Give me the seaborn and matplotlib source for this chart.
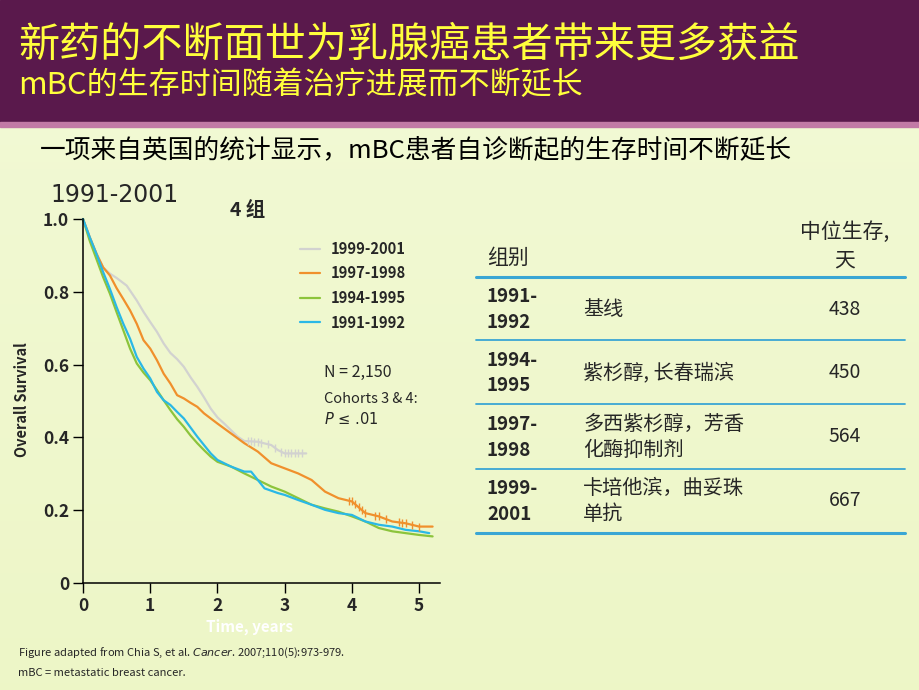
import numpy as np
import pandas as pd
import matplotlib
matplotlib.use("Agg")
import matplotlib.pyplot as plt
import seaborn as sns

# survival curves (time in years, overall survival)
groups = ["1999-2001", "1997-1998", "1994-1995", "1991-1992"]
colors = ["#d2d2d0", "#f0902c", "#8cc43c", "#2ab8e6"]

t_9901 = [0, 0.1, 0.2, 0.3, 0.4, 0.5, 0.65, 0.8, 0.9, 1.0, 1.1, 1.2, 1.3, 1.4, 1.5,
          1.6, 1.7, 1.8, 1.9, 2.0, 2.1, 2.2, 2.3, 2.4, 2.6, 2.8, 2.9, 3.0, 3.32]
s_9901 = [1.0, 0.95, 0.905, 0.867, 0.85, 0.838, 0.817, 0.776, 0.745, 0.717, 0.69, 0.658,
          0.632, 0.615, 0.594, 0.565, 0.539, 0.51, 0.479, 0.455, 0.438, 0.42, 0.402,
          0.39, 0.388, 0.379, 0.365, 0.356, 0.356]

t_9798 = [0, 0.1, 0.2, 0.3, 0.4, 0.5, 0.6, 0.7, 0.8, 0.9, 1.0, 1.1, 1.2, 1.3, 1.4, 1.5,
          1.6, 1.7, 1.8, 1.9, 2.0, 2.2, 2.4, 2.6, 2.8, 3.0, 3.2, 3.4, 3.6, 3.8, 4.0,
          4.2, 4.4, 4.6, 4.8, 5.0, 5.2]
s_9798 = [1.0, 0.95, 0.905, 0.867, 0.845, 0.81, 0.78, 0.749, 0.712, 0.667, 0.644, 0.612,
          0.575, 0.548, 0.516, 0.507, 0.495, 0.484, 0.466, 0.452, 0.438, 0.411, 0.384,
          0.361, 0.329, 0.315, 0.301, 0.283, 0.251, 0.233, 0.224, 0.192, 0.183, 0.169,
          0.164, 0.155, 0.155]

t_9495 = [0, 0.1, 0.2, 0.3, 0.4, 0.5, 0.6, 0.7, 0.8, 0.9, 1.0, 1.1, 1.2, 1.3, 1.4, 1.5,
          1.6, 1.7, 1.8, 1.9, 2.0, 2.2, 2.4, 2.6, 2.8, 3.0, 3.2, 3.4, 3.6, 3.8, 4.0,
          4.2, 4.4, 4.6, 4.8, 5.0, 5.2]
s_9495 = [1.0, 0.94, 0.89, 0.84, 0.795, 0.744, 0.694, 0.644, 0.603, 0.578, 0.557, 0.53,
          0.502, 0.475, 0.45, 0.429, 0.405, 0.384, 0.365, 0.347, 0.333, 0.32, 0.301,
          0.283, 0.265, 0.251, 0.233, 0.215, 0.205, 0.196, 0.183, 0.169, 0.151, 0.142,
          0.137, 0.132, 0.128]

t_9192 = [0, 0.1, 0.2, 0.3, 0.4, 0.5, 0.6, 0.7, 0.8, 0.9, 1.0, 1.1, 1.2, 1.3, 1.4, 1.5,
          1.6, 1.7, 1.8, 1.9, 2.0, 2.2, 2.4, 2.5, 2.6, 2.7, 2.9, 3.0, 3.2, 3.4, 3.6,
          3.8, 4.0, 4.2, 4.4, 4.6, 4.8, 5.0, 5.15]
s_9192 = [1.0, 0.95, 0.904, 0.854, 0.808, 0.758, 0.712, 0.671, 0.621, 0.589, 0.562, 0.525,
          0.502, 0.489, 0.47, 0.452, 0.427, 0.402, 0.379, 0.356, 0.338, 0.32, 0.306,
          0.306, 0.283, 0.26, 0.247, 0.242, 0.228, 0.215, 0.201, 0.192, 0.187, 0.169,
          0.16, 0.155, 0.146, 0.142, 0.137]

# censoring ticks
cens_9901 = [2.45, 2.5, 2.55, 2.6, 2.65, 2.75, 2.85, 2.95, 3.0, 3.05, 3.1, 3.15, 3.2, 3.25]
cens_9798 = [3.95, 4.0, 4.05, 4.1, 4.15, 4.2, 4.35, 4.4, 4.5, 4.7, 4.75, 4.8, 4.9, 5.0]

# table on the right
tbl_years = [("1991-", "1992"), ("1994-", "1995"), ("1997-", "1998"), ("1999-", "2001")]
tbl_drugs = [["基线"], ["紫杉醇, 长春瑞滨"], ["多西紫杉醇，芳香", "化酶抑制剂"],
             ["卡培他滨，曲妥珠", "单抗"]]
tbl_median = ["438", "450", "564", "667"]

sns.set_style("white")
plt.rcParams["font.family"] = ["Noto Sans CJK SC", "DejaVu Sans"]

W, H = 920, 690
fig = plt.figure(figsize=(9.2, 6.9), dpi=100)


def fx(x):
    return x / W


def fy(y):
    return 1 - y / H


# background: light green gradient + purple header
bg = fig.add_axes([0, 0, 1, 1], zorder=-10)
grad = np.linspace(0, 1, 200)[:, None]
top = np.array([0.95, 0.98, 0.84])
bot = np.array([0.93, 0.965, 0.78])
img = top[None, None, :] * (1 - grad[..., None]) + bot[None, None, :] * grad[..., None]
bg.imshow(img, extent=[0, 1, 0, 1], aspect="auto", origin="upper")
bg.add_patch(plt.Rectangle((0, fy(122)), 1, 1 - fy(122), color="#5a194c"))
bg.add_patch(plt.Rectangle((0, fy(127)), 1, fy(122) - fy(127), color="#c27aa6"))
bg.set_xlim(0, 1)
bg.set_ylim(0, 1)
bg.axis("off")

fig.text(fx(18), fy(45), "新药的不断面世为乳腺癌患者带来更多获益", color="#ffff3c",
         fontsize=29.6, va="center", ha="left")
fig.text(fx(18), fy(85), "mBC的生存时间随着治疗进展而不断延长", color="#ffff3c",
         fontsize=22.3, va="center", ha="left")
fig.text(fx(40), fy(150), "一项来自英国的统计显示，mBC患者自诊断起的生存时间不断延长",
         color="black", fontsize=18.5, va="center", ha="left")

# survival chart
rows = []
for g, t, s in [(groups[0], t_9901, s_9901), (groups[1], t_9798, s_9798),
                (groups[2], t_9495, s_9495), (groups[3], t_9192, s_9192)]:
    for a, b in zip(t, s):
        rows.append({"Time": a, "Survival": b, "Group": g})
df = pd.DataFrame(rows)

ax = fig.add_axes([fx(83), fy(583), fx(440) - fx(83), fy(219) - fy(583)])
ax.patch.set_alpha(0)
sns.lineplot(data=df, x="Time", y="Survival", hue="Group", hue_order=groups,
             palette=colors, estimator=None, sort=True, linewidth=1.6, ax=ax,
             clip_on=False)

for cens, t, s, c in [(cens_9901, t_9901, s_9901, colors[0]),
                      (cens_9798, t_9798, s_9798, colors[1])]:
    ax.plot(cens, np.interp(cens, t, s), linestyle="none", marker="|",
            markersize=6, markeredgewidth=1.0, color=c, clip_on=False)

ax.set_xlim(0, 5.31)
ax.set_ylim(0, 1.0)
ax.set_xticks([0, 1, 2, 3, 4, 5])
ax.set_yticks([0, 0.2, 0.4, 0.6, 0.8, 1.0])
ax.set_yticklabels(["0", "0.2", "0.4", "0.6", "0.8", "1.0"])
ax.tick_params(axis="both", direction="out", length=7, width=1.0, color="black",
               labelsize=12.5, pad=3, left=True, bottom=True)
for lbl in ax.get_xticklabels() + ax.get_yticklabels():
    lbl.set_fontweight("bold")
for side in ["top", "right"]:
    ax.spines[side].set_visible(False)
for side in ["left", "bottom"]:
    ax.spines[side].set_color("black")
    ax.spines[side].set_linewidth(1.1)
ax.set_xlabel("")
ax.set_ylabel("")

sns.move_legend(ax, "upper left", bbox_to_anchor=(fx(294), fy(235)),
                bbox_transform=fig.transFigure, frameon=False, title=None,
                prop={"weight": "bold", "size": 10.6}, handlelength=1.4,
                handletextpad=0.7, labelspacing=0.58, borderaxespad=0)

fig.text(fx(22), fy(400), "Overall Survival", rotation=90, fontsize=10.5,
         fontweight="bold", ha="center", va="center")
fig.text(fx(250), fy(627), "Time, years", color="white", fontsize=11,
         fontweight="bold", ha="center", va="center")
fig.text(fx(50), fy(195), "1991-2001", fontsize=17, ha="left", va="center",
         family=["DejaVu Sans"])
fig.text(fx(230), fy(210), "4 组", fontsize=14, fontweight="bold", ha="left", va="center")

fig.text(fx(324), fy(372), "N = 2,150", fontsize=11.5, ha="left", va="center")
fig.text(fx(324), fy(399), "Cohorts 3 & 4:", fontsize=10.5, ha="left", va="center")
fig.text(fx(324), fy(419), "$P$ \u2264 .01", fontsize=10.5, ha="left", va="center",
         family=["DejaVu Sans"])

# table
line_c = "#3aa6d4"
for y, lw in [(277, 2.2), (340, 1.3), (404, 1.3), (469, 1.3), (533, 2.2)]:
    fig.add_artist(plt.Line2D([fx(476), fx(905)], [fy(y), fy(y)], color=line_c, lw=lw))
fig.text(fx(487), fy(258), "组别", fontsize=15, ha="left", va="center")
fig.text(fx(845), fy(232), "中位生存,", fontsize=15, ha="center", va="center")
fig.text(fx(845), fy(260), "天", fontsize=15, ha="center", va="center")

row_mid = [309, 373, 437, 501]
for ymid, yrs, drugs, med in zip(row_mid, tbl_years, tbl_drugs, tbl_median):
    fig.text(fx(487), fy(ymid - 13), yrs[0], fontsize=13.5, fontweight="bold",
             ha="left", va="center")
    fig.text(fx(487), fy(ymid + 13), yrs[1], fontsize=13.5, fontweight="bold",
             ha="left", va="center")
    if len(drugs) == 1:
        fig.text(fx(583), fy(ymid), drugs[0], fontsize=14.5, ha="left", va="center")
    else:
        fig.text(fx(583), fy(ymid - 13), drugs[0], fontsize=14.5, ha="left", va="center")
        fig.text(fx(583), fy(ymid + 13), drugs[1], fontsize=14.5, ha="left", va="center")
    fig.text(fx(845), fy(ymid), med, fontsize=14, ha="center", va="center")

# footnotes
fig.text(fx(18), fy(653), "Figure adapted from Chia S, et al. $\\it{Cancer}$. 2007;110(5):973-979.",
         fontsize=8, ha="left", va="center")
fig.text(fx(18), fy(673), "mBC = metastatic breast cancer.", fontsize=8, ha="left", va="center")

fig.savefig("out.png", dpi=100)
